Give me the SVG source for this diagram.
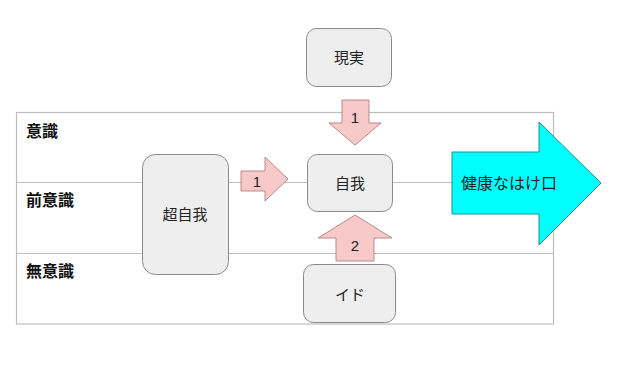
<svg xmlns="http://www.w3.org/2000/svg" width="640" height="377" viewBox="0 0 640 377">
<style>
.lane{fill:none;stroke:#bdbdbd;stroke-width:1.2}
.box{fill:#eeeeee;stroke:#8a8a8a;stroke-width:1}
.t{font-family:"Liberation Sans","Noto Sans CJK JP",sans-serif;font-size:15px;fill:#222;text-anchor:middle;dominant-baseline:central}
.lbl{font-family:"Liberation Sans","Noto Sans CJK JP",sans-serif;font-size:16px;font-weight:bold;fill:#111;dominant-baseline:central}
.pink{fill:#f8c9c9;stroke:#b88a8a;stroke-width:1}
.cyan{fill:#00ffff;stroke:#2a8c8c;stroke-width:1}
</style>
<rect width="640" height="377" fill="#ffffff"/>
<g id="lanes">
<rect class="lane" x="16.5" y="112.5" width="537" height="211.5"/>
<line class="lane" x1="16.5" y1="182.5" x2="553.5" y2="182.5"/>
<line class="lane" x1="16.5" y1="253.5" x2="553.5" y2="253.5"/>
<text class="lbl" x="26" y="131">意識</text>
<text class="lbl" x="26" y="200">前意識</text>
<text class="lbl" x="26" y="271">無意識</text>
</g>
<g id="connectors">
<g id="arrow-super-ego">
<polygon class="pink" points="241,171 265,171 265,157 288,179 265,201 265,191 241,191"/>
<text class="t" x="257" y="181">1</text>
</g>
<g id="arrow-reality">
<polygon class="pink" points="342,100 369,100 369,123 381,123 355,145 329,123 342,123"/>
<text class="t" x="355" y="117">1</text>
</g>
<g id="arrow-id">
<polygon class="pink" points="355,215 392,238 374,238 374,261 336,261 336,238 318,238"/>
<text class="t" x="355" y="245">2</text>
</g>
</g>
<g id="node-reality">
<rect class="box" x="306.5" y="28.5" width="85" height="58" rx="10"/>
<text class="t" x="349" y="57">現実</text>
</g>
<g id="node-superego">
<rect class="box" x="142.5" y="154.5" width="86" height="120" rx="13"/>
<text class="t" x="185" y="214">超自我</text>
</g>
<g id="node-ego">
<rect class="box" x="307.5" y="154.5" width="85" height="57" rx="10"/>
<text class="t" x="350" y="183">自我</text>
</g>
<g id="node-id">
<rect class="box" x="303.5" y="264.5" width="92" height="58" rx="10"/>
<text class="t" x="350" y="294">イド</text>
</g>
<g id="node-outlet">
<polygon class="cyan" points="452,152 539,152 539,122 601,183 539,245 539,214 452,214"/>
<text class="t" x="461" y="183" style="text-anchor:start;font-size:16px">健康なはけ口</text>
</g>
</svg>
